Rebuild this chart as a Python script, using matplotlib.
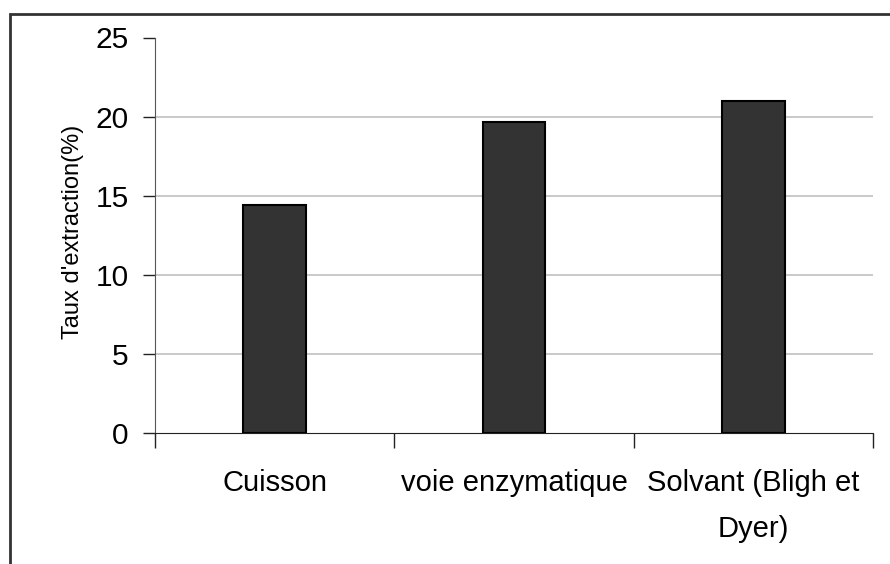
import matplotlib
matplotlib.use("Agg")
import matplotlib.pyplot as plt
from matplotlib.patches import Rectangle

plt.rcParams["font.family"] = ["Liberation Sans", "DejaVu Sans"]

# données
categories = ["Cuisson", "voie enzymatique", "Solvant (Bligh et\nDyer)"]
taux = [14.45, 19.65, 21.0]
yticks = [0, 5, 10, 15, 20, 25]

fig = plt.figure(figsize=(8.9, 5.64), dpi=100)
ax = fig.add_axes([155 / 890, 1 - 433.3 / 564, (873 - 155) / 890, (433.3 - 37.5) / 564])

# cadre autour du graphique (coupé à droite et en bas)
fig.patches.append(Rectangle((9.5 / 890, -0.1), 1.2, 1 - 14 / 564 + 0.1,
                             transform=fig.transFigure, fill=False,
                             edgecolor="#333333", lw=2))

x = [i + 0.5 for i in range(len(categories))]
ax.bar(x, taux, width=0.263, color="#333333", edgecolor="black", lw=1.5, zorder=3)

ax.set_xlim(0, len(categories))
ax.set_ylim(0, 25)
ax.set_yticks(yticks)
ax.set_yticklabels([str(v) for v in yticks], fontsize=21.5)
ax.set_xticks(range(len(categories) + 1))
ax.set_xticklabels([""] * (len(categories) + 1))
ax.set_xticks(x, minor=True)
ax.set_xticklabels(categories, minor=True, fontsize=21, linespacing=1.8)
ax.tick_params(axis="x", which="minor", length=0, pad=26)
ax.tick_params(axis="x", which="major", length=11, width=1, color="#222222")
ax.tick_params(axis="y", length=9, width=1, color="#222222", pad=10)

for v in yticks[1:-1]:
    ax.axhline(v, color="#c0c0c0", lw=1.2, zorder=1)

for s in ["top", "right"]:
    ax.spines[s].set_visible(False)
ax.spines["left"].set_color("#555555")
ax.spines["bottom"].set_color("#222222")

fig.text(73 / 890, 1 - 232 / 564, "Taux d'extraction(%)", rotation=90,
         fontsize=17, ha="center", va="center")

fig.savefig("out.png", dpi=100)
